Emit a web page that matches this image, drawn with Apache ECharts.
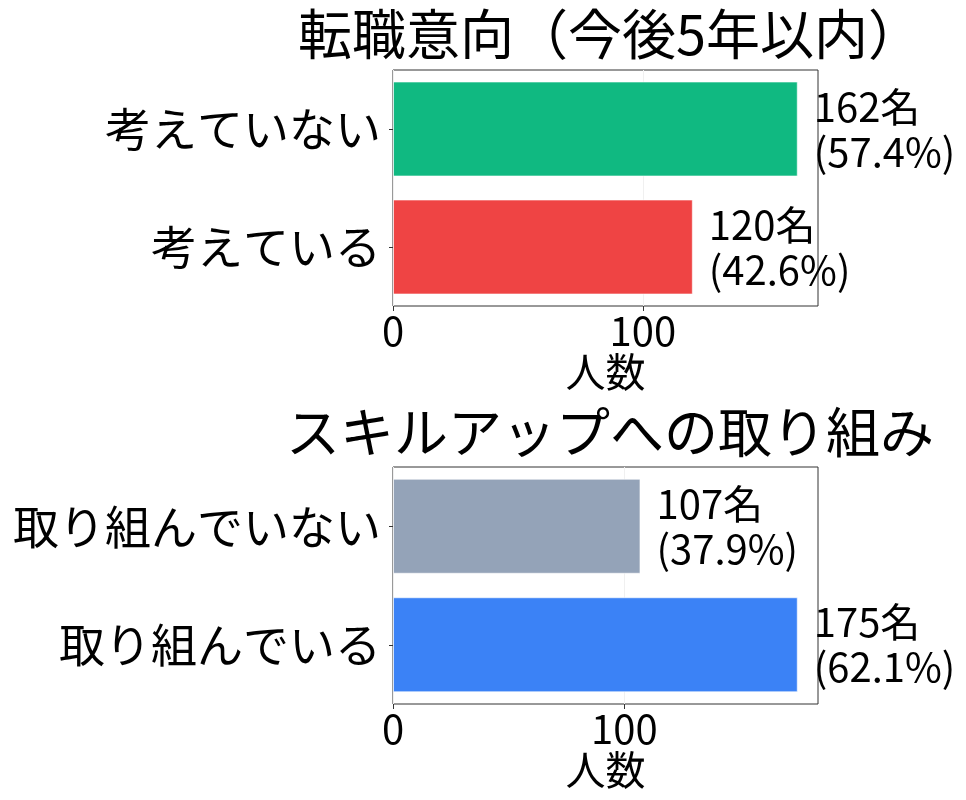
<!DOCTYPE html>
<html>
<head>
<meta charset="utf-8">
<script src="https://cdn.jsdelivr.net/npm/echarts@6/dist/echarts.min.js"></script>
<style>
  html, body { margin: 0; padding: 0; background: #fff; }
  #main { width: 966px; height: 800px; }
</style>
</head>
<body>
<div id="main"></div>
<script>
// data (bottom-to-top order, as the category axis draws it)
const titles = ['転職意向（今後5年以内）', 'スキルアップへの取り組み'];
const changeCats = ['考えている', '考えていない'];
const changeVals = [120, 162];
const changeColors = ['#ef4444', '#10b981'];
const skillCats = ['取り組んでいる', '取り組んでいない'];
const skillVals = [175, 107];
const skillColors = ['#3b82f6', '#94a3b8'];
const xTicks = [0, 100];
const axisName = '人数';

const FONT = 'Noto Sans CJK JP';
const chart = echarts.init(document.getElementById('main'));

function pct(vals, v) {
  const total = vals.reduce((a, b) => a + b, 0);
  return ((v / total) * 100).toFixed(1);
}

const grids = [
  { left: 393, top: 70, width: 425, height: 236 },
  { left: 393, top: 467, width: 425, height: 237 },
];

const panels = [
  { cats: changeCats, vals: changeVals, colors: changeColors },
  { cats: skillCats, vals: skillVals, colors: skillColors },
];

const option = {
  backgroundColor: '#fff',
  textStyle: { fontFamily: FONT },
  title: titles.map((t, i) => ({
    text: t,
    left: 605,
    top: i === 0 ? 2 : 400,
    textAlign: 'center',
    textStyle: { fontFamily: FONT, fontSize: 54, fontWeight: 'normal', color: '#000' },
  })),
  grid: grids.map((g) => ({
    ...g,
    show: true,
    borderColor: '#333',
    borderWidth: 1,
    containLabel: false,
  })),
  xAxis: panels.map((p, i) => ({
    type: 'value',
    gridIndex: i,
    min: 0,
    max: Math.max(...p.vals) * 1.05,
    interval: 100,
    name: axisName,
    nameLocation: 'middle',
    nameGap: 43,
    nameTextStyle: { fontFamily: FONT, fontSize: 40, color: '#000' },
    axisLine: { show: false },
    axisTick: { show: true, length: 5, customValues: xTicks, lineStyle: { color: '#333' } },
    axisLabel: {
      customValues: xTicks,
      fontFamily: FONT,
      fontSize: 40,
      color: '#000',
      margin: 5,
    },
    splitLine: { show: true, lineStyle: { color: '#f0f0f0', width: 1 } },
  })),
  yAxis: panels.map((p, i) => ({
    type: 'category',
    gridIndex: i,
    data: p.cats,
    axisLine: { show: false },
    axisTick: { show: true, length: 4, alignWithLabel: true, lineStyle: { color: '#333' } },
    axisLabel: { fontFamily: FONT, fontSize: 46, color: '#000', margin: 12 },
  })),
  series: panels.map((p, i) => ({
    type: 'bar',
    xAxisIndex: i,
    yAxisIndex: i,
    barWidth: 95,
    data: p.vals.map((v, j) => ({
      value: v,
      itemStyle: { color: p.colors[j], borderColor: 'rgba(255,255,255,0.6)', borderWidth: 1 },
    })),
    label: {
      show: true,
      position: 'right',
      distance: 16,
      align: 'left',
      fontFamily: FONT,
      fontSize: 40,
      lineHeight: 45,
      color: '#000',
      formatter: (d) => `${d.value}名\n(${pct(p.vals, d.value)}%)`,
    },
  })),
};

chart.setOption(option);
</script>
</body>
</html>
